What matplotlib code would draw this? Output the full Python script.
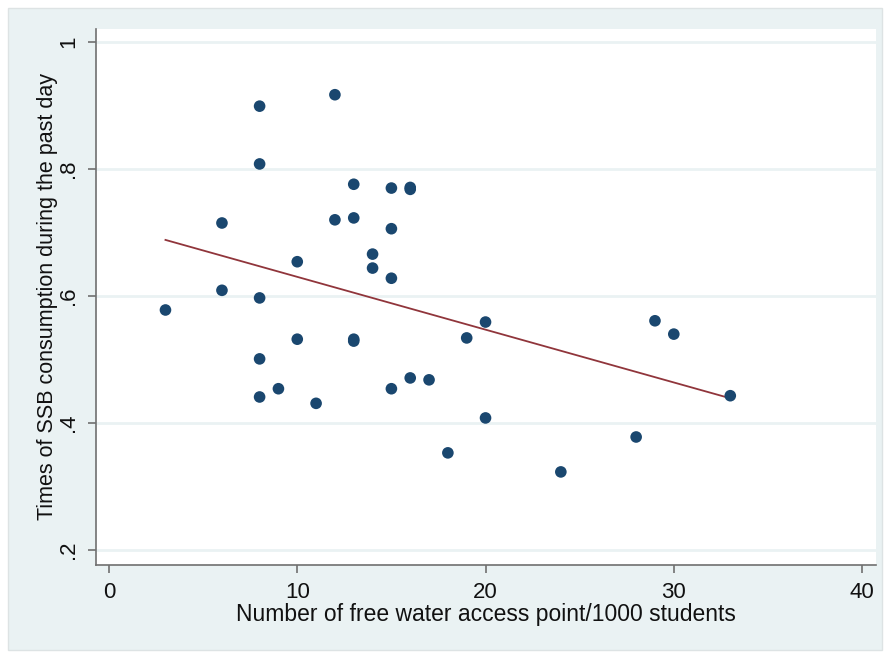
import numpy as np
import matplotlib
matplotlib.use("Agg")
import matplotlib.pyplot as plt
from matplotlib.patches import Rectangle

# water access points per 1000 students vs SSB consumption
water_points = [3, 6, 6, 8, 8, 8, 8, 8, 9, 10, 10, 11, 12, 12, 13, 13, 13, 13,
                14, 14, 15, 15, 15, 15, 16, 16, 16, 17, 18, 19, 20, 20, 24, 28,
                29, 30, 33]
ssb_times = [0.578, 0.715, 0.609, 0.899, 0.808, 0.597, 0.501, 0.441, 0.454,
             0.654, 0.532, 0.431, 0.917, 0.720, 0.776, 0.723, 0.532, 0.529,
             0.666, 0.644, 0.770, 0.706, 0.628, 0.454, 0.771, 0.768, 0.471,
             0.468, 0.353, 0.534, 0.559, 0.408, 0.323, 0.378, 0.561, 0.540,
             0.443]

x_ticks = [0, 10, 20, 30, 40]
y_ticks = [0.2, 0.4, 0.6, 0.8, 1.0]
y_tick_labels = [".2", ".4", ".6", ".8", "1"]

bg = "#eaf2f3"
navy = "#1a476f"
maroon = "#90353b"

plt.rcParams['font.family'] = ['Liberation Sans', 'DejaVu Sans']

fig = plt.figure(figsize=(8.87, 6.52), dpi=100, facecolor="white")
# stata-like graph region
fig.patches.append(Rectangle((8/887, 2/652), 874/887, 642/652, transform=fig.transFigure,
                             facecolor=bg, edgecolor="#dde3e4", linewidth=1.0, zorder=-10))

ax = fig.add_axes([96/887, 1 - 565/652, 780/887, 536/652])
ax.set_facecolor("white")

x = np.array(water_points, dtype=float)
y = np.array(ssb_times)
ax.scatter(x, y, s=70, color=navy, edgecolors="none", zorder=3)

# linear fit
slope, intercept = np.polyfit(x, y, 1)
xf = np.array([x.min(), x.max()])
ax.plot(xf, intercept + slope * xf, color=maroon, linewidth=1.3, zorder=2)

ax.set_xlim(-0.69, 40.74)
ax.set_ylim(0.1764, 1.0205)
ax.set_xticks(x_ticks)
ax.set_yticks(y_ticks)
ax.set_yticklabels(y_tick_labels, rotation=90, va="center")
ax.yaxis.grid(True, color=bg, linewidth=2)
ax.set_axisbelow(True)

for side in ["top", "right"]:
    ax.spines[side].set_visible(False)
for side in ["left", "bottom"]:
    ax.spines[side].set_color("#707070")
    ax.spines[side].set_linewidth(1.2)
ax.tick_params(direction="out", length=6, width=1.2, color="#707070",
               labelsize=16, labelcolor="#111111", pad=6)

ax.set_xlabel("Number of free water access point/1000 students", fontsize=16.5,
              color="#111111", labelpad=0)
ax.set_ylabel("Times of SSB consumption during the past day", fontsize=15.5,
              color="#111111", labelpad=0)

fig.savefig("out.png", dpi=100, facecolor=fig.get_facecolor())
